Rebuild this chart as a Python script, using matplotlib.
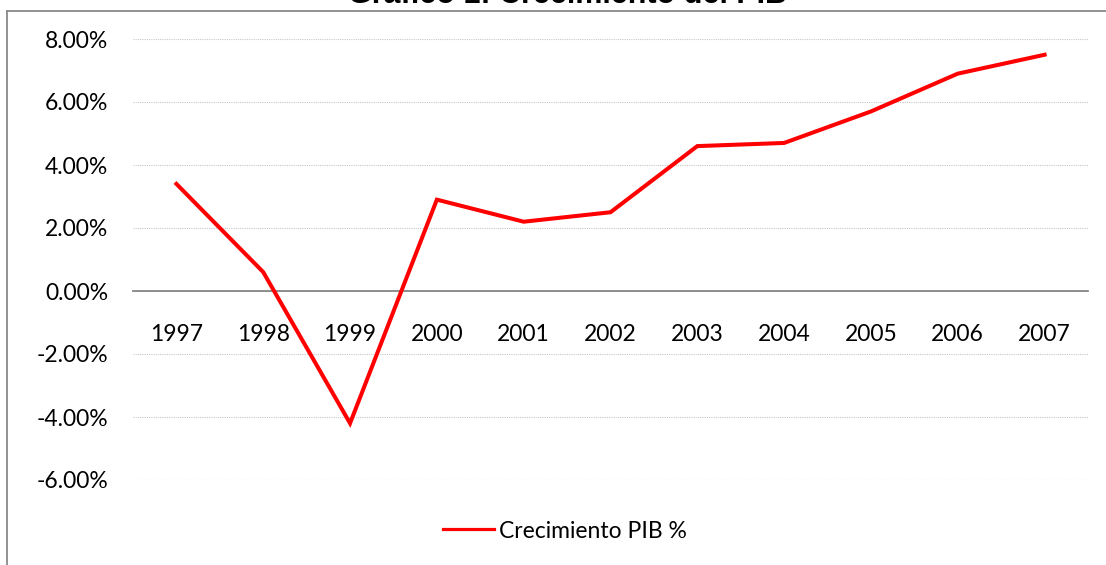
import matplotlib.pyplot as plt
from matplotlib.lines import Line2D

# Data
years = ['1997', '1998', '1999', '2000', '2001', '2002',
         '2003', '2004', '2005', '2006', '2007']
growth = [3.4, 0.6, -4.2, 2.9, 2.2, 2.5, 4.6, 4.7, 5.7, 6.9, 7.5]
y_ticks = [-6, -4, -2, 0, 2, 4, 6, 8]

plt.rcParams['font.family'] = ['Lato', 'DejaVu Sans']

W, H = 1106, 565
fig = plt.figure(figsize=(W / 100, H / 100), dpi=100)
ax = fig.add_axes([133 / W, 1 - 480 / H, (1088 - 133) / W, (480 - 39) / H])

x = list(range(len(years)))
ax.plot(x, growth, color='#ff0000', lw=2.9, label='Crecimiento PIB %',
        solid_joinstyle='miter', zorder=3)

ax.set_xlim(-0.5, len(years) - 0.5)
ax.set_ylim(-6, 8)
ax.set_yticks(y_ticks)
ax.set_yticklabels([f'{v:.2f}%' for v in y_ticks])
ax.set_xticks(x)
ax.set_xticklabels(years)

# gridlines, zero axis
ax.grid(axis='y', color='#c8c8c8', lw=0.8, ls=(0, (1, 1)))
ax.set_axisbelow(True)
for s in ['top', 'right', 'left']:
    ax.spines[s].set_visible(False)
ax.spines['bottom'].set_position(('data', 0))
ax.spines['bottom'].set_color('#868686')
ax.spines['bottom'].set_linewidth(1.3)
ax.tick_params(axis='both', length=0, labelsize=16.5, colors='black')
ax.tick_params(axis='y', pad=18)
ax.tick_params(axis='x', pad=24)

# chart frame (cut off at right and bottom)
frame = dict(color='#898989', lw=1.3, transform=fig.transFigure)
fig.add_artist(Line2D([7 / W, 1], [1 - 11 / H, 1 - 11 / H], **frame))
fig.add_artist(Line2D([7 / W, 7 / W], [0, 1 - 11 / H], **frame))

fig.text(567 / W, 1 - 3 / H, 'Gráfico 1: Crecimiento del PIB',
         family='Liberation Sans', weight='bold', fontsize=22,
         ha='center', va='baseline')

leg = fig.legend(loc='center', bbox_to_anchor=(565 / W, 1 - 531 / H),
                 frameon=False, fontsize=16.5, handlelength=2.2,
                 handletextpad=0.22)
leg.get_lines()[0].set_linewidth(2.3)

fig.savefig('out.png', dpi=100)
